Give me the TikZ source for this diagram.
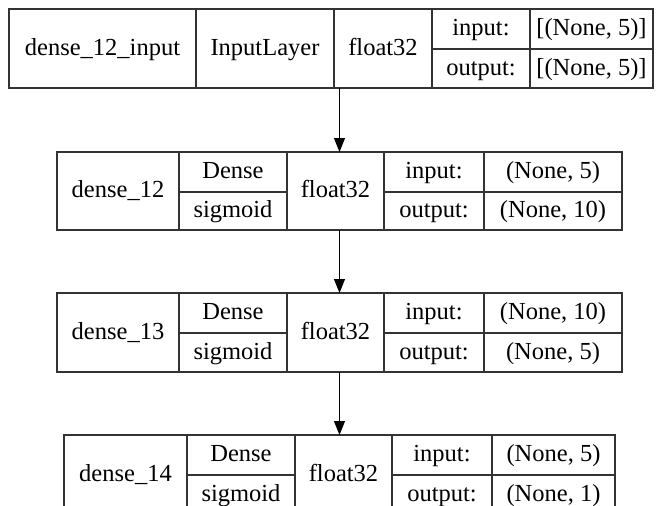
\documentclass[tikz,border=0pt]{standalone}
\usepackage{fontspec}
\setmainfont{Liberation Serif}
\usetikzlibrary{arrows.meta}

\tikzset{
    cell/.style={draw=black!80, line width=1.1pt, inner sep=0pt, outer sep=0pt,
        anchor=north west, text height=18pt, text depth=5pt,
        font=\fontsize{24.5}{29}\selectfont},
    layerbox/.style={draw=black!80, line width=1.1pt, inner sep=0pt, outer sep=0pt,
        anchor=north west},
    arr/.style={draw=black, line width=1.1pt, -{Triangle[length=14pt,width=11pt]}}
}

\begin{document}
\begin{tikzpicture}[x=1pt,y=1pt]
    \useasboundingbox (0,0) rectangle (659,-506);

    % input layer
    \node[layerbox, minimum width=644, minimum height=79] (l1) at (9,-9) {};
    \node[cell, minimum width=187, minimum height=79] (n1) at (9,-9) {dense\_12\_input};
    \node[cell, minimum width=138, minimum height=79] (t1) at (196,-9) {InputLayer};
    \node[cell, minimum width=98, minimum height=79] (d1) at (334,-9) {float32};
    \node[cell, minimum width=98, minimum height=40] (il1) at (432,-9) {input:};
    \node[cell, minimum width=123, minimum height=40] (iv1) at (530,-9) {[(None, 5)]};
    \node[cell, minimum width=98, minimum height=39] (ol1) at (432,-49) {output:};
    \node[cell, minimum width=123, minimum height=39] (ov1) at (530,-49) {[(None, 5)]};

    % dense_12
    \node[layerbox, minimum width=565, minimum height=78] (l2) at (57,-152) {};
    \node[cell, minimum width=122, minimum height=78] (n2) at (57,-152) {dense\_12};
    \node[cell, minimum width=108, minimum height=40] (t2) at (179,-152) {Dense};
    \node[cell, minimum width=108, minimum height=38] (a2) at (179,-192) {sigmoid};
    \node[cell, minimum width=97, minimum height=78] (d2) at (287,-152) {float32};
    \node[cell, minimum width=100, minimum height=40] (il2) at (384,-152) {input:};
    \node[cell, minimum width=138, minimum height=40] (iv2) at (484,-152) {(None, 5)};
    \node[cell, minimum width=100, minimum height=38] (ol2) at (384,-192) {output:};
    \node[cell, minimum width=138, minimum height=38] (ov2) at (484,-192) {(None, 10)};

    % dense_13
    \node[layerbox, minimum width=565, minimum height=79] (l3) at (57,-293) {};
    \node[cell, minimum width=122, minimum height=79] (n3) at (57,-293) {dense\_13};
    \node[cell, minimum width=108, minimum height=40] (t3) at (179,-293) {Dense};
    \node[cell, minimum width=108, minimum height=39] (a3) at (179,-333) {sigmoid};
    \node[cell, minimum width=97, minimum height=79] (d3) at (287,-293) {float32};
    \node[cell, minimum width=100, minimum height=40] (il3) at (384,-293) {input:};
    \node[cell, minimum width=138, minimum height=40] (iv3) at (484,-293) {(None, 10)};
    \node[cell, minimum width=100, minimum height=39] (ol3) at (384,-333) {output:};
    \node[cell, minimum width=138, minimum height=39] (ov3) at (484,-333) {(None, 5)};

    % dense_14
    \node[layerbox, minimum width=551, minimum height=79] (l4) at (64,-435) {};
    \node[cell, minimum width=123, minimum height=79] (n4) at (64,-435) {dense\_14};
    \node[cell, minimum width=108, minimum height=40] (t4) at (187,-435) {Dense};
    \node[cell, minimum width=108, minimum height=39] (a4) at (187,-475) {sigmoid};
    \node[cell, minimum width=97, minimum height=79] (d4) at (295,-435) {float32};
    \node[cell, minimum width=100, minimum height=40] (il4) at (392,-435) {input:};
    \node[cell, minimum width=123, minimum height=40] (iv4) at (492,-435) {(None, 5)};
    \node[cell, minimum width=100, minimum height=39] (ol4) at (392,-475) {output:};
    \node[cell, minimum width=123, minimum height=39] (ov4) at (492,-475) {(None, 1)};

    % edges
    \draw[arr] (l1.south -| l2.north) -- (l2.north);
    \draw[arr] (l2.south) -- (l3.north);
    \draw[arr] (l3.south -| l4.north) -- (l4.north);
\end{tikzpicture}
\end{document}
